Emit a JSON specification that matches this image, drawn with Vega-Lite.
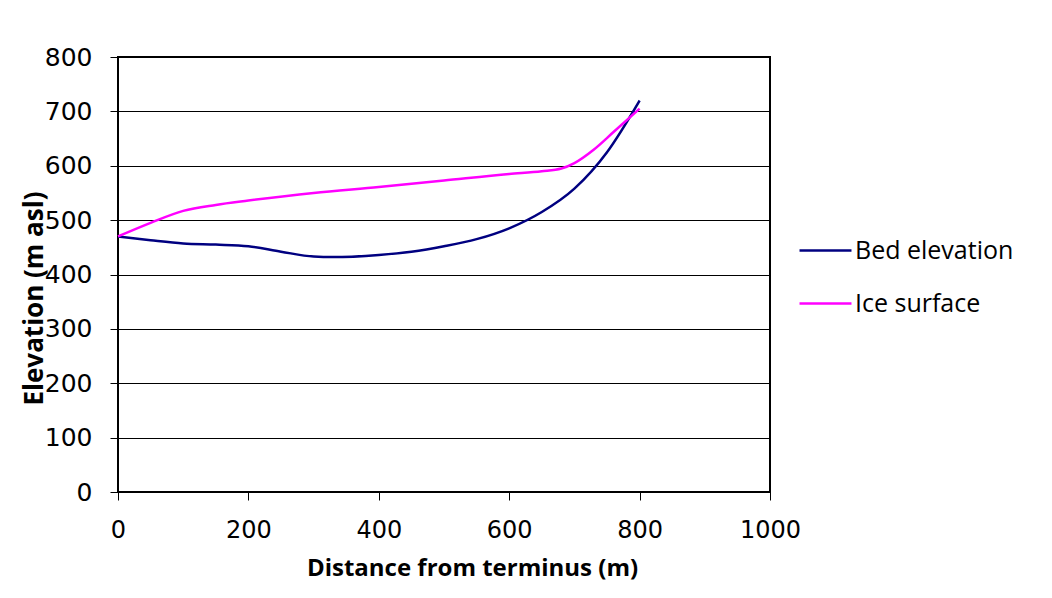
{
  "$schema": "https://vega.github.io/schema/vega-lite/v6.json",
  "width": 652,
  "height": 435,
  "autosize": {"type": "none"},
  "padding": {"left": 118, "top": 57, "right": 282, "bottom": 106},
  "background": "white",
  "data": {
    "values": [
      {"d": 0, "e": 470, "s": "Bed elevation"},
      {"d": 50, "e": 463, "s": "Bed elevation"},
      {"d": 100, "e": 457, "s": "Bed elevation"},
      {"d": 150, "e": 455, "s": "Bed elevation"},
      {"d": 200, "e": 452, "s": "Bed elevation"},
      {"d": 250, "e": 442, "s": "Bed elevation"},
      {"d": 300, "e": 433, "s": "Bed elevation"},
      {"d": 330, "e": 432, "s": "Bed elevation"},
      {"d": 400, "e": 436, "s": "Bed elevation"},
      {"d": 450, "e": 442, "s": "Bed elevation"},
      {"d": 500, "e": 452, "s": "Bed elevation"},
      {"d": 550, "e": 465, "s": "Bed elevation"},
      {"d": 600, "e": 485, "s": "Bed elevation"},
      {"d": 650, "e": 515, "s": "Bed elevation"},
      {"d": 700, "e": 558, "s": "Bed elevation"},
      {"d": 750, "e": 625, "s": "Bed elevation"},
      {"d": 800, "e": 720, "s": "Bed elevation"},
      {"d": 0, "e": 470, "s": "Ice surface"},
      {"d": 50, "e": 495, "s": "Ice surface"},
      {"d": 100, "e": 517, "s": "Ice surface"},
      {"d": 150, "e": 528, "s": "Ice surface"},
      {"d": 200, "e": 536, "s": "Ice surface"},
      {"d": 300, "e": 550, "s": "Ice surface"},
      {"d": 400, "e": 561, "s": "Ice surface"},
      {"d": 500, "e": 573, "s": "Ice surface"},
      {"d": 600, "e": 585, "s": "Ice surface"},
      {"d": 650, "e": 590, "s": "Ice surface"},
      {"d": 680, "e": 595, "s": "Ice surface"},
      {"d": 700, "e": 605, "s": "Ice surface"},
      {"d": 730, "e": 630, "s": "Ice surface"},
      {"d": 760, "e": 662, "s": "Ice surface"},
      {"d": 800, "e": 705, "s": "Ice surface"}
    ]
  },
  "mark": {"type": "line", "interpolate": "monotone", "strokeWidth": 2.5},
  "encoding": {
    "x": {
      "field": "d", "type": "quantitative",
      "scale": {"domain": [0, 1000], "nice": false},
      "axis": {
        "values": [0, 200, 400, 600, 800, 1000],
        "format": "d",
        "title": "Distance from terminus (m)",
        "grid": false, "domain": false,
        "tickColor": "black", "tickSize": 8, "tickWidth": 1,
        "labelFont": "DejaVu Sans", "labelFontSize": 24, "labelColor": "black",
        "labelPadding": 18, "labelFlush": false,
        "titleFont": "Open Sans", "titleFontSize": 24, "titleFontWeight": "bold", "titleColor": "black",
        "titleX": 354, "titleY": 76, "titleBaseline": "middle", "titleAlign": "center"
      }
    },
    "y": {
      "field": "e", "type": "quantitative",
      "scale": {"domain": [0, 800], "nice": false},
      "axis": {
        "values": [0, 100, 200, 300, 400, 500, 600, 700, 800],
        "format": "d",
        "title": "Elevation (m asl)",
        "grid": true, "gridColor": "black", "gridWidth": 1, "gridOpacity": 1,
        "domain": false,
        "tickColor": "black", "tickSize": 8, "tickWidth": 1,
        "labelFont": "DejaVu Sans", "labelFontSize": 25, "labelColor": "black",
        "labelPadding": 18, "labelFlush": false,
        "titleFont": "Open Sans", "titleFontSize": 26, "titleFontWeight": "bold", "titleColor": "black",
        "titleAngle": -90, "titleX": -84, "titleY": 241, "titleBaseline": "middle", "titleAlign": "center"
      }
    },
    "color": {
      "field": "s", "type": "nominal",
      "scale": {"domain": ["Bed elevation", "Ice surface"], "range": ["#000080", "#FF00FF"]},
      "legend": {
        "title": null, "orient": "none", "legendX": 680, "legendY": 166,
        "symbolType": "stroke", "symbolSize": 2700, "symbolStrokeWidth": 2.5,
        "labelFont": "Open Sans", "labelFontSize": 25, "labelColor": "black",
        "labelOffset": 2, "rowPadding": 12
      }
    }
  },
  "config": {
    "view": {"stroke": "black", "strokeWidth": 2}
  }
}
